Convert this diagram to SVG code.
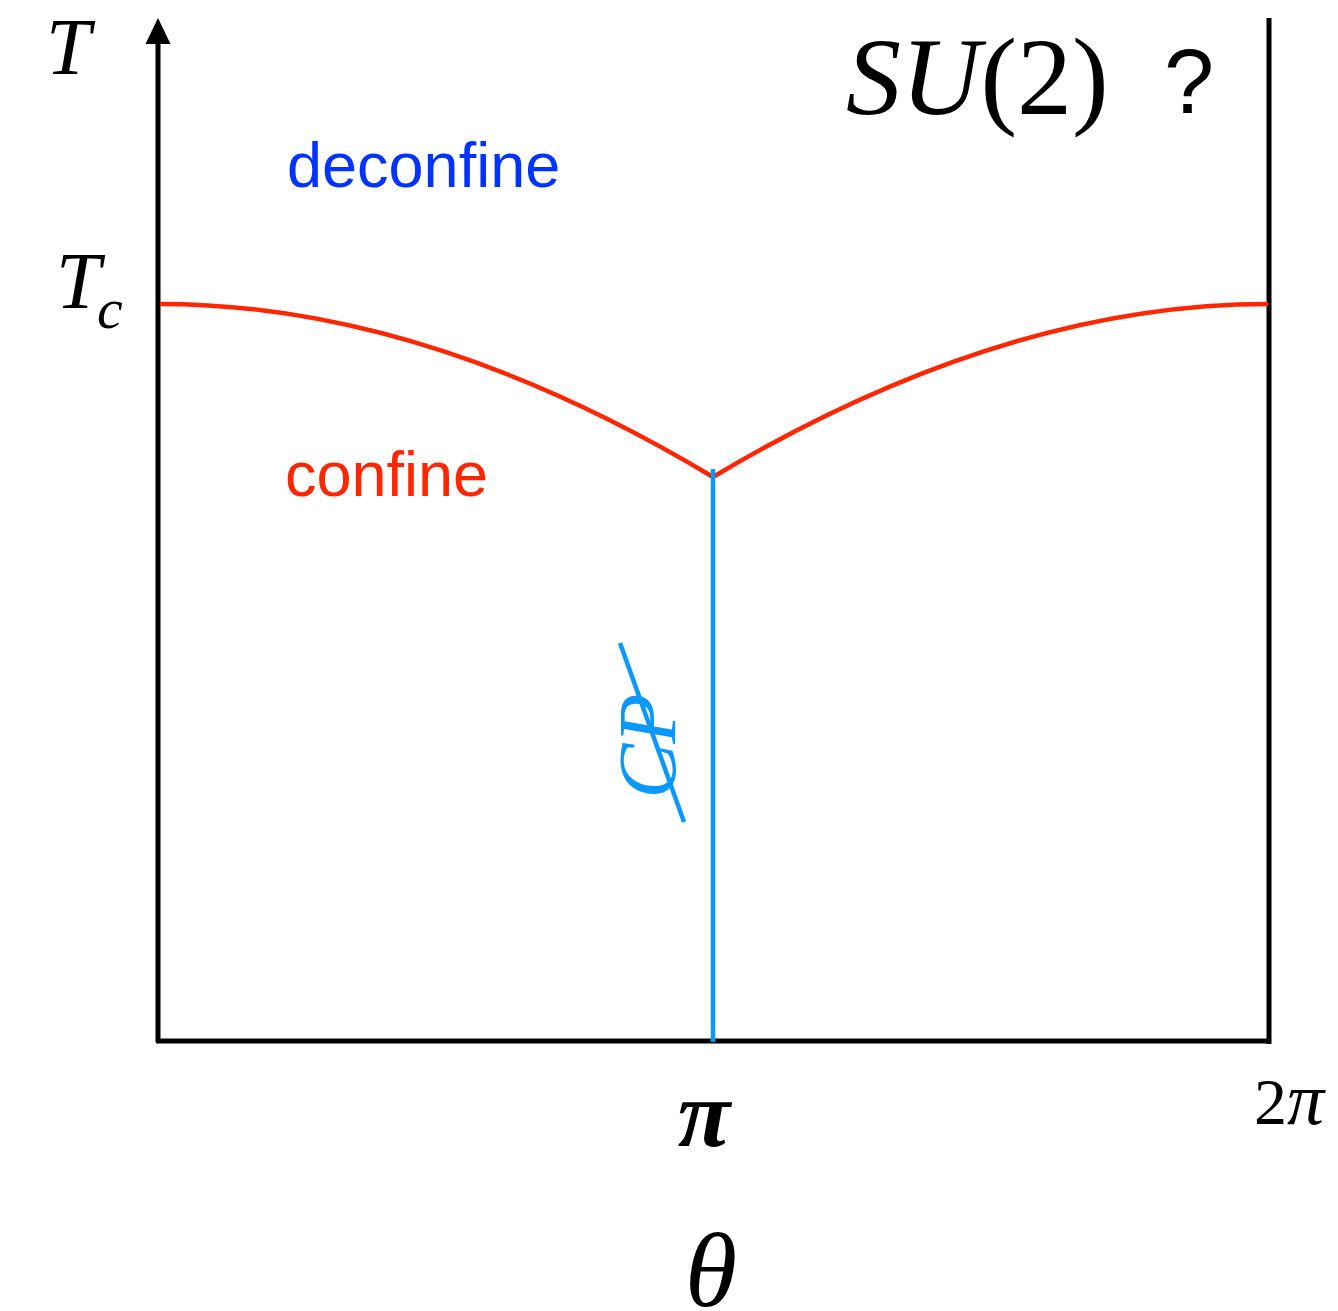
<svg xmlns="http://www.w3.org/2000/svg" width="1338" height="1311" viewBox="0 0 1338 1311">
<style>
.ax{stroke:#000;stroke-width:5;fill:none}
.red{stroke:#ff2600;stroke-width:4.5;fill:none}
.blue{stroke:#0a98ff;stroke-width:4.5;fill:none}
.math{font-family:"Liberation Serif","DejaVu Serif",serif;font-style:italic;fill:#000}
.rom{font-family:"Liberation Serif","DejaVu Serif",serif;fill:#000}
.sans{font-family:"Liberation Sans",Arial,sans-serif}
</style>
<rect width="1338" height="1311" fill="#fff"/>
<g id="axes">
<line class="ax" x1="158" y1="1042" x2="158" y2="38"/>
<polygon points="158,18 145.5,44 170.5,44" fill="#000"/>
<line class="ax" x1="156" y1="1041" x2="1270" y2="1041"/>
<line class="ax" x1="1269" y1="18" x2="1269" y2="1044"/>
</g>
<g id="connectors">
<path class="red" d="M160,304 Q425,304 713,477"/>
<path class="red" d="M713,477 Q1003,304 1268,304"/>
<line class="blue" x1="713" y1="469" x2="713" y2="1042"/>
<line class="blue" x1="620" y1="643" x2="684" y2="822"/>
</g>
<g id="labels">
<text class="math" x="46" y="74" font-size="80">T</text>
<text class="math" x="56" y="308" font-size="80">T</text>
<text class="math" x="97" y="328" font-size="58">c</text>
<text x="846" y="114" font-size="110"><tspan class="math">SU</tspan><tspan class="rom">(2)</tspan></text>
<text class="sans" x="1164" y="113" font-size="90" fill="#000">?</text>
<text class="sans" x="287" y="187" font-size="63" fill="#0033ff">deconfine</text>
<text class="sans" x="285" y="496" font-size="63" fill="#ff2600">confine</text>
<text class="math" transform="translate(675,746) rotate(-90)" text-anchor="middle" font-size="82" style="fill:#0a98ff">CP</text>
<text class="math" x="704" y="1146" font-size="96" text-anchor="middle" font-weight="bold">π</text>
<text class="math" x="711" y="1306" font-size="106" text-anchor="middle">θ</text>
<text x="1254" y="1124" font-size="66"><tspan class="rom">2</tspan><tspan class="math" font-size="74">π</tspan></text>
</g>
</svg>
